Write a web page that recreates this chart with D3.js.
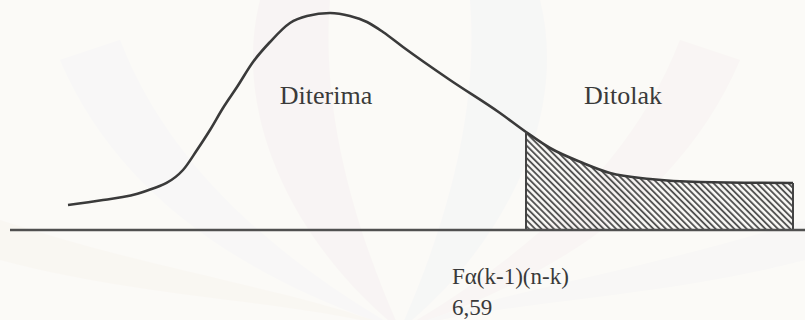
<!DOCTYPE html>
<html>
<head>
<meta charset="utf-8">
<script src="https://cdn.jsdelivr.net/npm/d3@7.9.0/dist/d3.min.js"></script>
<style>
  html, body { margin: 0; padding: 0; background: #fbfaf7; }
  svg { display: block; }
</style>
</head>
<body>
<svg id="chart" width="805" height="320"></svg>
<script>
// curve: position along axis and height above baseline
const curveX = [68, 103, 143, 183, 197, 210, 223, 237, 253, 270, 290, 307, 330, 350, 367, 383, 403, 450, 500, 526, 550, 583, 610, 650, 700, 793];
const curveH = [25, 30, 38, 60, 80, 100, 122, 143, 168, 188, 207, 214, 217, 214, 208, 198, 183, 150, 117, 98, 82, 67, 57, 51, 48, 47];

const criticalX = 526;   // start of rejection area
const tailEndX = 793;

const regionLabels = ['Diterima', 'Ditolak'];
const regionLabelX = [326, 623];
const regionLabelH = [126, 126];

const criticalLabel = ['F\u03b1(k-1)(n-k)', '6,59'];

const width = 805;
const height = 320;
const baseY = 230;

// find a serif face that is really installed
function pickSerif() {
  const ctx = document.createElement('canvas').getContext('2d');
  const sample = 'Diterima Ditolak 6,59 mmmWWiil';
  const candidates = ['Liberation Serif', 'DejaVu Serif', 'Noto Serif', 'Times New Roman', 'Tinos',
    'Nimbus Roman', 'FreeSerif', 'Noto Serif CJK SC', 'Noto Serif CJK JP'];
  for (const f of candidates) {
    let differs = false;
    for (const base of ['monospace', 'sans-serif']) {
      ctx.font = `40px ${base}`;
      const w0 = ctx.measureText(sample).width;
      ctx.font = `40px "${f}", ${base}`;
      if (ctx.measureText(sample).width !== w0) differs = true;
    }
    if (differs) return `"${f}", serif`;
  }
  return 'serif';
}
const serifFont = pickSerif();

const svg = d3.select('#chart');

const x = d3.scaleLinear().domain([0, 805]).range([0, width]);
const y = d3.scaleLinear().domain([0, 230]).range([baseY, 0]);

const points = curveX.map((d, i) => ({ x: d, h: curveH[i] }));

// faint watermark in the background
const wm = svg.append('g').attr('opacity', 0.22);
const leaves = [
  { d: 'M400,330 C300,250 230,120 260,0 L330,0 C320,120 360,240 400,330 Z', c: '#f1e3ea' },
  { d: 'M400,330 C500,250 570,120 540,0 L470,0 C480,120 440,240 400,330 Z', c: '#e9edf6' },
  { d: 'M400,330 C250,280 120,200 60,60 L120,40 C170,170 280,260 400,330 Z', c: '#eef0f7' },
  { d: 'M400,330 C550,280 680,200 740,60 L680,40 C630,170 520,260 400,330 Z', c: '#f3e6ea' },
  { d: 'M400,330 C300,300 150,300 0,260 L0,220 C150,270 300,290 400,330 Z', c: '#f6eee4' },
  { d: 'M400,330 C500,300 650,300 805,260 L805,220 C650,270 500,290 400,330 Z', c: '#eeeef4' }
];
wm.selectAll('path').data(leaves).join('path')
  .attr('d', d => d.d)
  .attr('fill', d => d.c);

// hatch pattern
const defs = svg.append('defs');
defs.append('pattern')
  .attr('id', 'hatch')
  .attr('patternUnits', 'userSpaceOnUse')
  .attr('width', 4.4)
  .attr('height', 10)
  .attr('patternTransform', 'rotate(-45)')
  .append('line')
  .attr('x1', 1).attr('y1', 0)
  .attr('x2', 1).attr('y2', 10)
  .attr('stroke', '#4a4a4a')
  .attr('stroke-width', 1.8);

const tail = points.filter(d => d.x >= criticalX && d.x <= tailEndX);

const area = d3.area()
  .x(d => x(d.x))
  .y0(y(0))
  .y1(d => y(d.h))
  .curve(d3.curveMonotoneX);

svg.append('path')
  .datum(tail)
  .attr('d', area)
  .attr('fill', 'url(#hatch)');

const line = d3.line()
  .x(d => x(d.x))
  .y(d => y(d.h))
  .curve(d3.curveMonotoneX);

svg.append('path')
  .datum(points)
  .attr('d', line)
  .attr('fill', 'none')
  .attr('stroke', '#3a3a3a')
  .attr('stroke-width', 2.6)
  .attr('stroke-linejoin', 'round');

// vertical edges of the rejection area
const edges = [tail[0], tail[tail.length - 1]];
svg.selectAll('line.edge').data(edges).join('line')
  .attr('class', 'edge')
  .attr('x1', d => x(d.x)).attr('x2', d => x(d.x))
  .attr('y1', d => y(d.h)).attr('y2', y(0))
  .attr('stroke', '#444')
  .attr('stroke-width', 2);

// baseline
svg.append('line')
  .attr('x1', x(10)).attr('x2', width)
  .attr('y1', y(0)).attr('y2', y(0))
  .attr('stroke', '#505050')
  .attr('stroke-width', 2.6);

// region labels
svg.selectAll('text.region').data(regionLabels).join('text')
  .attr('class', 'region')
  .attr('x', (d, i) => x(regionLabelX[i]))
  .attr('y', (d, i) => y(regionLabelH[i]))
  .attr('text-anchor', 'middle')
  .style('font-family', serifFont)
  .style('font-size', '26px')
  .attr('fill', '#3a3a3a')
  .text(d => d);

// critical value label
svg.append('text')
  .style('font-family', serifFont)
  .style('font-size', '23px')
  .attr('fill', '#3a3a3a')
  .selectAll('tspan').data(criticalLabel).join('tspan')
  .attr('x', x(452))
  .attr('y', (d, i) => 284 + i * 31)
  .text(d => d);
</script>
</body>
</html>
